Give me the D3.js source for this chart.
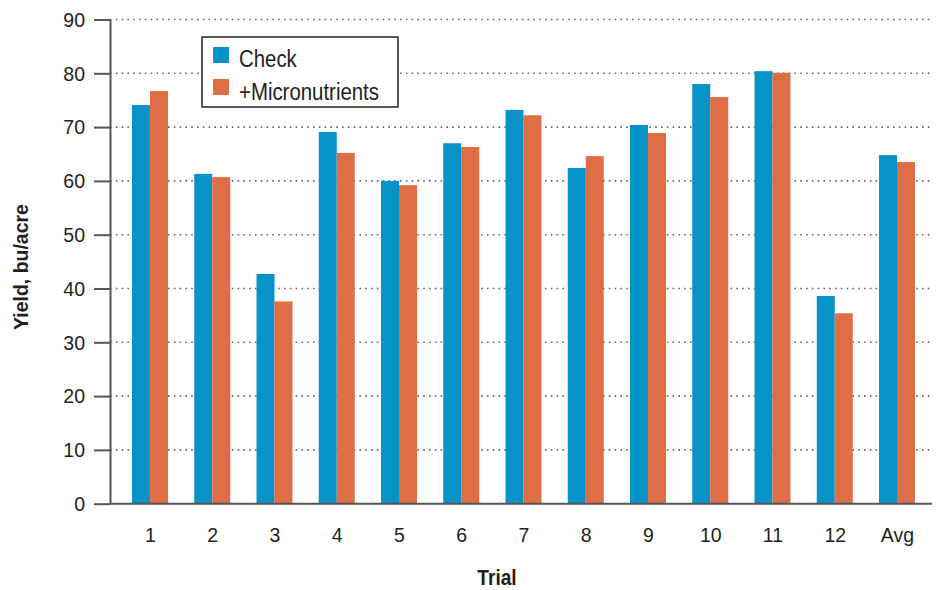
<!DOCTYPE html>
<html>
<head>
<meta charset="utf-8">
<script src="https://cdn.jsdelivr.net/npm/d3@7/dist/d3.min.js"></script>
<style>
  html, body { margin: 0; padding: 0; background: #fff; }
  svg text { font-family: "Liberation Sans", Arial, sans-serif; fill: #231f20; }
</style>
</head>
<body>
<svg id="chart" width="941" height="590"></svg>
<script>
// Yield by trial, with and without micronutrients
const trials = ["1","2","3","4","5","6","7","8","9","10","11","12","Avg"];
const checkYield = [74.1, 61.3, 42.7, 69.1, 60.0, 67.0, 73.2, 62.4, 70.4, 78.0, 80.4, 38.6, 64.8];
const microYield = [76.7, 60.7, 37.6, 65.2, 59.2, 66.3, 72.2, 64.6, 68.9, 75.6, 80.1, 35.4, 63.5];
const seriesNames = ["Check", "+Micronutrients"];
const seriesColors = ["#0793c8", "#dd6e46"];
const yTicks = [0, 10, 20, 30, 40, 50, 60, 70, 80, 90];

const svg = d3.select("#chart");
const plotLeft = 110, plotRight = 932, plotTop = 19.5, plotBottom = 503.7;
const barW = 18;

// squeeze text horizontally around its own anchor point
function condense(sel, sx) {
  sel.each(function () {
    const t = d3.select(this);
    const tx = +t.attr("x") || 0, ty = +t.attr("y") || 0;
    const prev = t.attr("transform") || "";
    t.attr("x", 0).attr("y", 0)
      .attr("transform", `${prev} translate(${tx},${ty}) scale(${sx},1)`);
  });
}

const x = d3.scalePoint().domain(trials).range([150, 897]);
const y = d3.scaleLinear().domain([0, 90]).range([plotBottom, plotTop]);

// dotted gridlines
svg.append("g").selectAll("line")
  .data(yTicks.filter(d => d > 0))
  .join("line")
  .attr("x1", plotLeft).attr("x2", plotRight)
  .attr("y1", d => y(d)).attr("y2", d => y(d))
  .attr("stroke", "#666").attr("stroke-width", 1.6)
  .attr("stroke-dasharray", "1.6,4.2");

// bars
const series = [checkYield, microYield];
series.forEach((vals, si) => {
  svg.append("g").selectAll("rect")
    .data(trials.map((t, i) => ({ t, v: vals[i] })))
    .join("rect")
    .attr("x", d => x(d.t) - barW + si * barW)
    .attr("width", barW)
    .attr("y", d => y(d.v))
    .attr("height", d => y(0) - y(d.v))
    .attr("fill", seriesColors[si]);
});

// y axis
const yAxis = svg.append("g")
  .attr("transform", `translate(${plotLeft},0)`)
  .call(d3.axisLeft(y).tickValues(yTicks).tickSize(16).tickPadding(9).tickSizeOuter(0));
yAxis.select(".domain").attr("stroke", "#555").attr("stroke-width", 2);
yAxis.selectAll(".tick line").attr("stroke", "#555").attr("stroke-width", 2);
yAxis.selectAll(".tick text").attr("font-size", 21).style("fill", "#231f20")
  .call(condense, 0.93);

// x axis
const xAxis = svg.append("g")
  .attr("transform", `translate(0,${plotBottom})`)
  .call(d3.axisBottom(x).tickSize(0).tickPadding(23).tickSizeOuter(0));
xAxis.select(".domain").attr("d", `M${plotLeft},0H${plotRight}`).attr("stroke", "#555").attr("stroke-width", 2);
xAxis.selectAll(".tick text").attr("font-size", 21).style("fill", "#231f20")
  .call(condense, 0.93);

// axis titles
svg.append("text")
  .attr("x", 497).attr("y", 585)
  .attr("text-anchor", "middle")
  .attr("font-size", 22).attr("font-weight", "bold")
  .text("Trial")
  .call(condense, 0.87);
svg.append("text")
  .attr("transform", "translate(27.5,267) rotate(-90)")
  .attr("text-anchor", "middle")
  .attr("font-size", 20.5).attr("font-weight", "bold")
  .text("Yield, bu/acre")
  .call(condense, 0.95);

// legend
const lg = svg.append("g");
lg.append("rect")
  .attr("x", 202).attr("y", 37).attr("width", 196).attr("height", 70)
  .attr("fill", "#fff").attr("stroke", "#231f20").attr("stroke-width", 1.5);
seriesNames.forEach((name, i) => {
  lg.append("rect")
    .attr("x", 213).attr("y", 47 + i * 32).attr("width", 16).attr("height", 16)
    .attr("fill", seriesColors[i]);
  lg.append("text")
    .attr("x", 239).attr("y", 66.5 + i * 33)
    .attr("font-size", 24)
    .text(name)
    .call(condense, 0.85);
});
</script>
</body>
</html>
